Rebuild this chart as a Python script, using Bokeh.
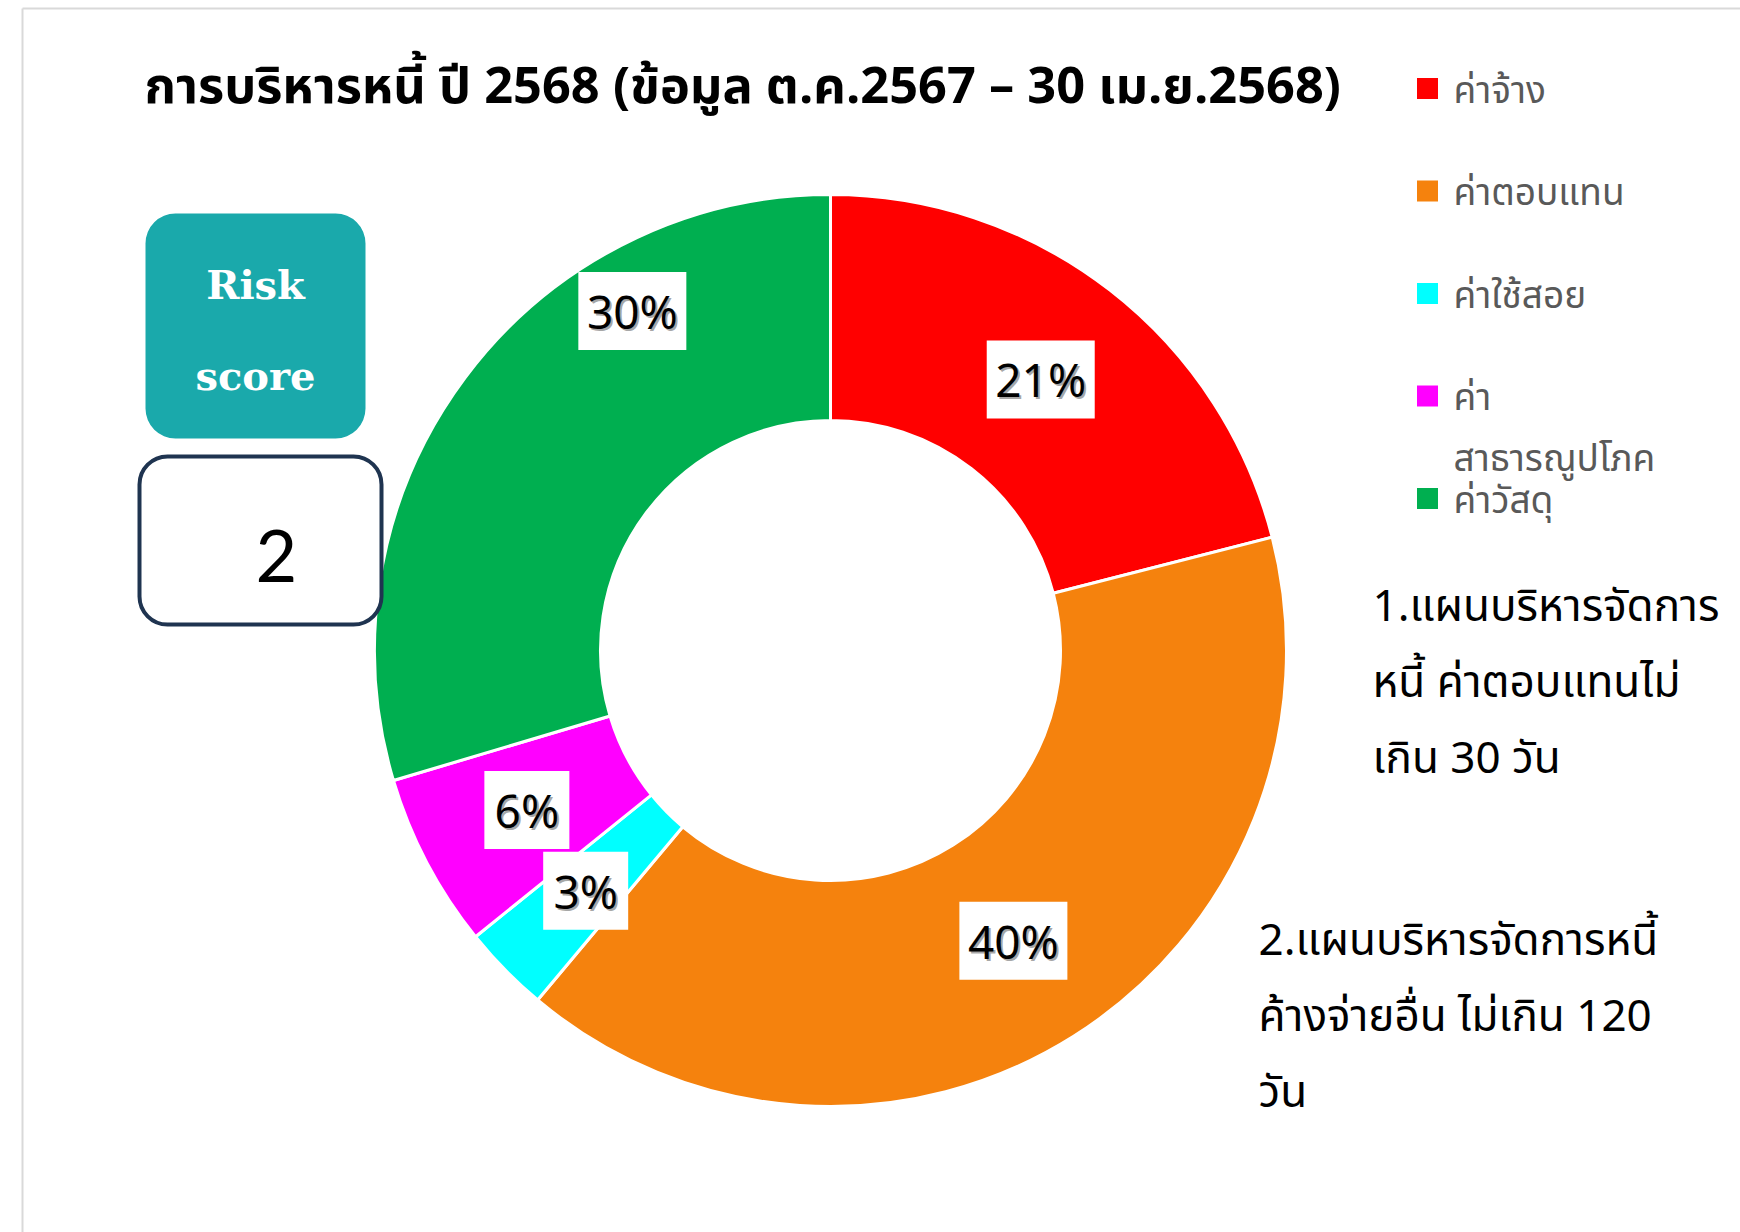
import math
from bokeh.plotting import figure
from bokeh.models import Range1d
from bokeh.core.properties import value
from bokeh.embed import file_html
from bokeh.resources import INLINE

# ---------------- data ----------------
title_text = "การบริหารหนี้ ปี 2568 (ข้อมูล ต.ค.2567 – 30 เม.ย.2568)"
categories = ["ค่าจ้าง", "ค่าตอบแทน", "ค่าใช้สอย", "ค่าสาธารณูปโภค", "ค่าวัสดุ"]
legend_labels = ["ค่าจ้าง", "ค่าตอบแทน", "ค่าใช้สอย", "ค่า\nสาธารณูปโภค", "ค่าวัสดุ"]
values = [21.0, 40.1, 3.1, 6.2, 29.6]
colors = ["#FF0000", "#F5820D", "#00FFFF", "#FF00FF", "#00AF50"]
notes_1 = ["1.แผนบริหารจัดการ", "หนี้ ค่าตอบแทนไม่", "เกิน 30 วัน"]
notes_2 = ["2.แผนบริหารจัดการหนี้", "ค้างจ่ายอื่น ไม่เกิน 120", "วัน"]
risk_label = ["Risk", "score"]
risk_score = "2"

# ---------------- figure ----------------
W, H = 1740, 1232
PAGE_H = 1232


def Y(sy):
    return PAGE_H - sy


p = figure(width=W, height=H, x_range=Range1d(0, W), y_range=Range1d(PAGE_H - H, PAGE_H),
           output_backend="svg", toolbar_location=None, min_border=0)
p.axis.visible = False
p.grid.visible = False
p.outline_line_color = None
p.background_fill_color = "white"
p.border_fill_color = "white"

THAI = value("Noto Sans Thai")

# frame lines
p.line([22, 22], [Y(8), Y(1240)], line_color="#D9D9D9", line_width=2)
p.line([22, 1750], [Y(8), Y(8)], line_color="#D9D9D9", line_width=2)

# ---------------- donut ----------------
cx, cy = 830, Y(650)
r_in, r_out = 230, 456
total = float(sum(values))
starts, ends, mids = [], [], []
cum = 0.0
for v in values:
    t0 = cum / total * 2 * math.pi
    cum += v
    t1 = cum / total * 2 * math.pi
    starts.append(math.pi / 2 - t1)
    ends.append(math.pi / 2 - t0)
    mids.append((t0 + t1) / 2)

p.annular_wedge(x=cx, y=cy, inner_radius=r_in, outer_radius=r_out,
                start_angle=starts, end_angle=ends, direction="anticlock",
                fill_color=colors, line_color="white", line_width=3)

# data labels
lx, ly, ltxt, lw = [], [], [], []
for i, (v, m) in enumerate(zip(values, mids)):
    r = 343
    a = m
    if i == len(values) - 1:  # last label was dragged outward in original
        r = 393
        a = m + math.radians(23.0)
    lx.append(cx + r * math.sin(a))
    ly.append(cy + r * math.cos(a))
    t = f"{round(v / total * 100)}%"
    ltxt.append(t)
    lw.append(39 + 23 * len(t))

p.rect(x=lx, y=ly, width=lw, height=78, fill_color="white", line_color=None)
p.text(x=[x + 2 for x in lx], y=[y - 2 for y in ly], text=ltxt, text_align="center", text_baseline="middle",
       text_font=value("Noto Sans"), text_font_size="46px", text_color="#808080", text_alpha=0.7)
p.text(x=lx, y=ly, text=ltxt, text_align="center", text_baseline="middle",
       text_font=value("Noto Sans"), text_font_size="46px", text_color="black")

# ---------------- title ----------------
p.text(x=[144], y=[Y(87)], text=[title_text], text_align="left", text_baseline="middle",
       text_font=THAI, text_font_size="50.5px", text_font_style="bold", text_color="black")

# ---------------- legend ----------------
leg_y0, leg_dy = 88, 102.5
for i, (lab, col) in enumerate(zip(legend_labels, colors)):
    yy = leg_y0 + i * leg_dy
    p.rect(x=[1427], y=[Y(yy)], width=21, height=21, fill_color=col, line_color=None)
    for j, part in enumerate(lab.split("\n")):
        p.text(x=[1453], y=[Y(yy + 3 + j * 61)], text=[part], text_align="left", text_baseline="middle",
               text_font=THAI, text_font_size="37px", text_color="#595959")

# ---------------- notes ----------------
for j, line in enumerate(notes_1):
    p.text(x=[1372], y=[Y(607 + j * 76)], text=[line], text_align="left", text_baseline="middle",
           text_font=THAI, text_font_size="44px", text_color="black")
for j, line in enumerate(notes_2):
    p.text(x=[1258], y=[Y(941 + j * 76)], text=[line], text_align="left", text_baseline="middle",
           text_font=THAI, text_font_size="44px", text_color="black")

# ---------------- risk score boxes ----------------
p.quad(left=[145], right=[365], top=[Y(213)], bottom=[Y(438)], fill_color="#1AA9AB", line_color=None,
       border_radius=30)
p.text(x=[255, 255], y=[Y(284), Y(375)], text=risk_label, text_align="center", text_baseline="middle",
       text_font=value("DejaVu Serif"), text_font_size="40px", text_font_style="bold", text_color="white")
p.quad(left=[139], right=[381], top=[Y(456)], bottom=[Y(624)], fill_color="white", line_color="#1F3450",
       line_width=4, border_radius=28)
p.text(x=[276], y=[Y(555)], text=[risk_score], text_align="center", text_baseline="middle",
       text_font=value("Lato"), text_font_size="72px", text_color="black")

open("out.html", "w").write(file_html(p, INLINE))
